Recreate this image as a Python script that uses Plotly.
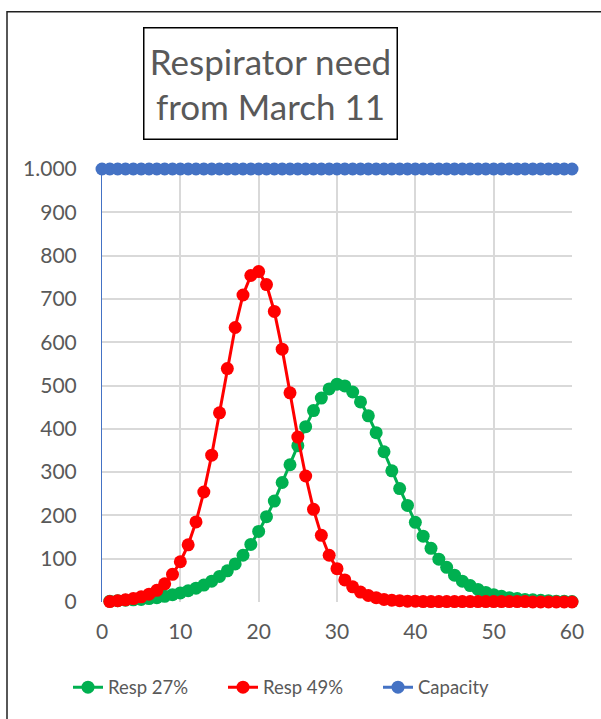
import plotly.graph_objects as go

days = list(range(1, 61))
cap_days = list(range(0, 61))

resp27 = [2, 3, 4, 5, 6, 8, 10, 13, 17, 21,
          26, 32, 39, 48, 59, 72, 88, 108, 133, 163,
          197, 233, 276, 317, 361, 405, 442, 471, 492, 503,
          499, 485, 462, 430, 391, 347, 303, 262, 223, 184,
          152, 124, 99, 80, 62, 48, 38, 29, 22, 17,
          13, 10, 8, 6, 5, 4, 3, 2, 2, 1]

resp49 = [1, 3, 5, 8, 12, 18, 27, 42, 64, 93,
          132, 185, 254, 339, 437, 539, 634, 709, 754, 763,
          733, 671, 584, 483, 381, 291, 214, 154, 108, 77,
          51, 35, 23, 15, 10, 6, 4, 3, 2, 2,
          1, 1, 1, 1, 1, 1, 1, 1, 1, 1,
          1, 1, 1, 1, 0, 0, 0, 0, 0, 0]

capacity = [1000] * 61

y_tickvals = [0, 100, 200, 300, 400, 500, 600, 700, 800, 900, 1000]
y_ticktext = ["0", "100", "200", "300", "400", "500", "600", "700", "800", "900", "1.000"]
x_tickvals = [0, 10, 20, 30, 40, 50, 60]

GREEN = "#00b050"
RED = "#ff0000"
BLUE = "#4472c4"
TXT = "#595959"
FONT = "Lato"

fig = go.Figure()
fig.add_trace(go.Scatter(x=days, y=resp27, name="Resp 27%", mode="lines+markers",
                         line=dict(color=GREEN, width=3), marker=dict(color=GREEN, size=13),
                         cliponaxis=False))
fig.add_trace(go.Scatter(x=days, y=resp49, name="Resp 49%", mode="lines+markers",
                         line=dict(color=RED, width=3), marker=dict(color=RED, size=13),
                         cliponaxis=False))
fig.add_trace(go.Scatter(x=cap_days, y=capacity, name="Capacity", mode="lines+markers",
                         line=dict(color=BLUE, width=3), marker=dict(color=BLUE, size=13),
                         cliponaxis=False))

L, R, T, B = 102, 29, 169, 115
W, H = 601, 719
pw, ph = W - L - R, H - T - B

def px_x(p):
    return (p - L) / pw

def px_y(p):
    return (H - B - p) / ph

fig.update_layout(
    width=W, height=H,
    margin=dict(l=L, r=R, t=T, b=B),
    paper_bgcolor="white", plot_bgcolor="white",
    font=dict(family=FONT, size=20, color=TXT),
    showlegend=True,
    legend=dict(orientation="h", x=px_x(68), y=px_y(690), xanchor="left", yanchor="middle",
                font=dict(family=FONT, size=18.5, color=TXT), entrywidth=110,
                bgcolor="rgba(0,0,0,0)"),
    hovermode=False,
)
fig.update_xaxes(range=[0, 60], tickvals=x_tickvals, showgrid=True, gridcolor="#d9d9d9",
                 gridwidth=2, zeroline=False, showline=False, ticks="",
                 ticklabelstandoff=15, tickfont=dict(family=FONT, size=21, color=TXT))
fig.update_yaxes(range=[0, 1000], tickvals=y_tickvals, ticktext=y_ticktext, showgrid=True,
                 gridcolor="#d9d9d9", gridwidth=2, zeroline=False, showline=True,
                 linecolor=BLUE, linewidth=1, ticks="", ticklabelstandoff=20,
                 tickfont=dict(family=FONT, size=21, color=TXT))

# Title box
fig.add_annotation(text="Respirator need<br>from March 11", xref="paper", yref="paper",
                   x=px_x(270), y=px_y(83), xanchor="center", yanchor="middle",
                   showarrow=False, font=dict(family=FONT, size=35, color=TXT),
                   bordercolor="black", borderwidth=1.5, borderpad=0,
                   width=252, height=110, bgcolor="white")

# Outer chart frame
fig.add_shape(type="rect", xref="paper", yref="paper",
              x0=px_x(7), y0=px_y(740), x1=px_x(640), y1=px_y(11),
              line=dict(color="#202020", width=1.5), layer="below")

fig.write_html("out.html", config={"displayModeBar": False},
               post_script="document.body.style.margin='0';document.body.style.overflow='hidden';")
